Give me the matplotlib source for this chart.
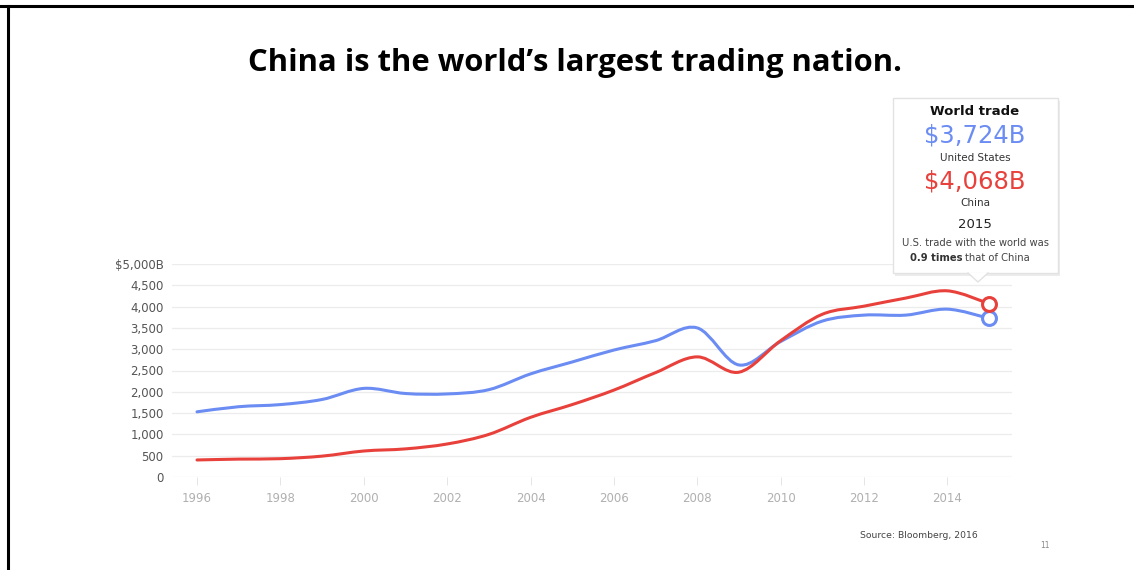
import matplotlib
matplotlib.use('Agg')
import matplotlib.pyplot as plt
from matplotlib.path import Path
from matplotlib.patches import PathPatch, FancyBboxPatch, Polygon
import numpy as np

years = [1996, 1997, 1998, 1999, 2000, 2001, 2002, 2003, 2004, 2005,
         2006, 2007, 2008, 2009, 2010, 2011, 2012, 2013, 2014, 2015]
us = [1530, 1650, 1700, 1820, 2080, 1960, 1950, 2050, 2420, 2700,
      2980, 3200, 3500, 2630, 3180, 3660, 3800, 3800, 3940, 3724]
china = [400, 420, 430, 490, 610, 660, 775, 1000, 1400, 1700,
         2040, 2450, 2820, 2460, 3200, 3820, 4010, 4200, 4370, 4068]

yticks = [0, 500, 1000, 1500, 2000, 2500, 3000, 3500, 4000, 4500, 5000]
ytick_labels = ['0', '500', '1,000', '1,500', '2,000', '2,500', '3,000',
                '3,500', '4,000', '4,500', '$5,000B']
xticks = [1996, 1998, 2000, 2002, 2004, 2006, 2008, 2010, 2012, 2014]

blue = '#6b8cf2'
red = '#e8413c'

W, H = 1134, 570
fig = plt.figure(figsize=(W / 100, H / 100), dpi=100)

def fx(px):
    return px / W

def fy(py):
    return 1 - py / H

# slide border
fig.add_artist(plt.Line2D([0, 1], [fy(6), fy(6)], color='black', lw=2.2))
fig.add_artist(plt.Line2D([fx(8), fx(8)], [0, fy(6)], color='black', lw=2.2))

fig.text(fx(575), fy(63), "China is the world\u2019s largest trading nation.",
         ha='center', va='center', fontsize=22.3, fontweight='bold',
         family='Open Sans', color='black')

ax = fig.add_axes([fx(172), fy(477), fx(1012 - 172), (477 - 264) / H])
ax.set_xlim(1995.4, 2015.55)
ax.set_ylim(0, 5000)
for s in ax.spines.values():
    s.set_visible(False)
ax.set_yticks(yticks)
ax.set_yticklabels(ytick_labels)
ax.set_xticks(xticks)
ax.set_xticklabels([str(x) for x in xticks])
ax.tick_params(axis='y', length=0, pad=6, labelsize=8.5, labelcolor='#555555')
ax.tick_params(axis='x', length=6, width=0.6, color='#e0e0e0', pad=5,
               labelsize=8.5, labelcolor='#b0b0b0', direction='out')
for t in yticks:
    ax.axhline(t, color='#ececec', lw=0.9, zorder=0)


def smooth_path(xs, ys):
    # catmull-rom converted to cubic bezier segments
    pts = list(zip(xs, ys))
    verts = [pts[0]]
    codes = [Path.MOVETO]
    n = len(pts)
    for i in range(n - 1):
        p0 = np.array(pts[max(i - 1, 0)], float)
        p1 = np.array(pts[i], float)
        p2 = np.array(pts[i + 1], float)
        p3 = np.array(pts[min(i + 2, n - 1)], float)
        c1 = p1 + (p2 - p0) / 6
        c2 = p2 - (p3 - p1) / 6
        verts += [tuple(c1), tuple(c2), tuple(p2)]
        codes += [Path.CURVE4] * 3
    return Path(verts, codes)


for vals, col in [(us, blue), (china, red)]:
    ax.add_patch(PathPatch(smooth_path(years, vals), facecolor='none',
                           edgecolor=col, lw=2.2, capstyle='round', zorder=3))
    ax.plot(years[-1], vals[-1], 'o', ms=10, mfc='white', mec=col, mew=2.2,
            zorder=4, clip_on=False)

# tooltip box with a faint shadow
shadow = FancyBboxPatch((fx(895), fy(276)), fx(1058 - 893), (273 - 98) / H,
                        boxstyle='square,pad=0', transform=fig.transFigure,
                        facecolor='#ececec', edgecolor='none', zorder=4)
fig.add_artist(shadow)
box = FancyBboxPatch((fx(893), fy(273)), fx(1058 - 893), (273 - 98) / H,
                     boxstyle='square,pad=0', transform=fig.transFigure,
                     facecolor='white', edgecolor='#e2e2e2', lw=1.0, zorder=5)
fig.add_artist(box)
fig.add_artist(Polygon([[fx(968), fy(272.5)], [fx(988), fy(272.5)], [fx(978), fy(282)]],
                       closed=True, transform=fig.transFigure, facecolor='white',
                       edgecolor='none', zorder=6))
fig.add_artist(plt.Line2D([fx(968), fx(978), fx(988)], [fy(273), fy(282), fy(273)],
                          color='#e2e2e2', lw=1.0, zorder=6))

cx = fx(975)
fig.text(cx, fy(112), 'World trade', ha='center', va='center', fontsize=9.5,
         fontweight='bold', color='#111111', zorder=7)
fig.text(cx, fy(135), '$3,724B', ha='center', va='center', fontsize=17.5,
         color=blue, zorder=7)
fig.text(cx, fy(158), 'United States', ha='center', va='center', fontsize=7.5,
         color='#333333', zorder=7)
fig.text(cx, fy(182), '$4,068B', ha='center', va='center', fontsize=17.5,
         color=red, zorder=7)
fig.text(cx, fy(203), 'China', ha='center', va='center', fontsize=7.5,
         color='#333333', zorder=7)
fig.text(cx, fy(225), '2015', ha='center', va='center', fontsize=9.5,
         color='#222222', zorder=7)
fig.text(cx, fy(243), 'U.S. trade with the world was', ha='center', va='center',
         fontsize=7.2, color='#444444', zorder=7)
fig.text(fx(962), fy(258), '0.9 times', ha='right', va='center', fontsize=7.2,
         fontweight='bold', color='#333333', zorder=7)
fig.text(fx(965), fy(258), 'that of China', ha='left', va='center', fontsize=7.2,
         color='#444444', zorder=7)

fig.text(fx(860), fy(536), 'Source: Bloomberg, 2016', ha='left', va='center',
         fontsize=6.7, color='#444444')
fig.text(fx(1040), fy(546), '11', ha='left', va='center', fontsize=5.5,
         color='#888888')

fig.savefig('out.png', dpi=100)
